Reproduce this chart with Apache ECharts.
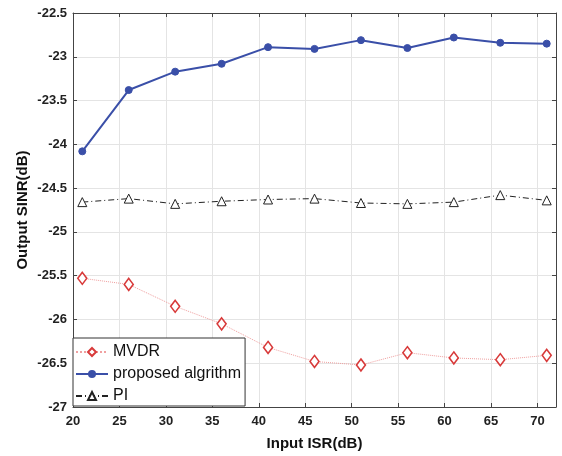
<!DOCTYPE html>
<html><head><meta charset="utf-8">
<script src="https://cdn.jsdelivr.net/npm/echarts@6/dist/echarts.min.js"></script>
<style>html,body{margin:0;padding:0;background:#fff}#c{width:562px;height:456px}</style>
</head><body><div id="c"></div>
<script>
const isr = [21, 26, 31, 36, 41, 46, 51, 56, 61, 66, 71];
const mvdr = [-25.53, -25.60, -25.85, -26.05, -26.32, -26.48, -26.52, -26.38, -26.44, -26.46, -26.41];
const proposed = [-24.08, -23.38, -23.17, -23.08, -22.89, -22.91, -22.81, -22.90, -22.78, -22.84, -22.85];
const pi = [-24.66, -24.62, -24.68, -24.65, -24.63, -24.62, -24.67, -24.68, -24.66, -24.58, -24.64];
const names = ['MVDR', 'proposed algrithm', 'PI'];

const font = 'Liberation Sans, Arial, sans-serif';
const pair = (ys) => isr.map((x, i) => [x, ys[i]]);
const chart = echarts.init(document.getElementById('c'));
const gridLine = {show: true, lineStyle: {color: '#e4e4e4', width: 1}};
chart.setOption({
  animation: false,
  backgroundColor: '#fff',
  grid: {left: 73, right: 6, top: 13, bottom: 48},
  legend: {
    orient: 'vertical', left: 73, top: 338,
    backgroundColor: '#fff', borderColor: '#333', borderWidth: 1,
    padding: [6, 4, 2, 2], itemGap: 6, itemWidth: 32, itemHeight: 10,
    textStyle: {fontFamily: font, fontSize: 16, lineHeight: 16, color: '#111'},
    data: names
  },
  xAxis: [{
    type: 'value', min: 20, max: 72, interval: 5,
    name: 'Input ISR(dB)', nameLocation: 'middle', nameGap: 29, nameMoveOverlap: false,
    nameTextStyle: {fontFamily: font, fontSize: 15, color: '#111', fontWeight: 'bold'},
    axisLine: {show: true, lineStyle: {color: '#444'}},
    axisTick: {show: true, inside: true, length: 4, lineStyle: {color: '#444'}},
    axisLabel: {fontFamily: font, fontSize: 13, fontWeight: 'bold', color: '#222', margin: 8,
      formatter: v => (v % 5 === 0 ? String(v) : '')},
    splitLine: gridLine
  }, {
    type: 'value', position: 'top', min: 20, max: 72, interval: 5,
    axisLine: {show: true, lineStyle: {color: '#444'}},
    axisTick: {show: true, inside: true, length: 4, lineStyle: {color: '#444'}},
    axisLabel: {show: false}, splitLine: {show: false}
  }],
  yAxis: [{
    type: 'value', min: -27, max: -22.5, interval: 0.5,
    name: 'Output SINR(dB)', nameLocation: 'middle', nameGap: 43, nameMoveOverlap: false,
    nameTextStyle: {fontFamily: font, fontSize: 15, color: '#111', fontWeight: 'bold'},
    axisLine: {show: true, lineStyle: {color: '#444'}},
    axisTick: {show: true, inside: true, length: 4, lineStyle: {color: '#444'}},
    axisLabel: {fontFamily: font, fontSize: 13, fontWeight: 'bold', color: '#222', margin: 6},
    splitLine: gridLine
  }, {
    type: 'value', position: 'right', min: -27, max: -22.5, interval: 0.5,
    axisLine: {show: true, lineStyle: {color: '#444'}},
    axisTick: {show: true, inside: true, length: 4, lineStyle: {color: '#444'}},
    axisLabel: {show: false}, splitLine: {show: false}
  }],
  series: [{
    name: names[0], type: 'line', data: pair(mvdr),
    symbol: 'diamond', symbolSize: [9, 12],
    lineStyle: {color: '#f0a0a0', width: 1, type: 'dotted'},
    itemStyle: {color: '#fff', borderColor: '#d83a3a', borderWidth: 1.6}
  }, {
    name: names[1], type: 'line', data: pair(proposed),
    symbol: 'circle', symbolSize: 7,
    lineStyle: {color: '#3a4fa8', width: 2},
    itemStyle: {color: '#3a4fa8', borderColor: '#3a4fa8'}
  }, {
    name: names[2], type: 'line', data: pair(pi),
    symbol: 'triangle', symbolSize: 9,
    lineStyle: {color: '#222', width: 1, type: [6, 3, 1, 3]},
    itemStyle: {color: '#fff', borderColor: '#222', borderWidth: 1}
  }]
});
</script></body></html>
